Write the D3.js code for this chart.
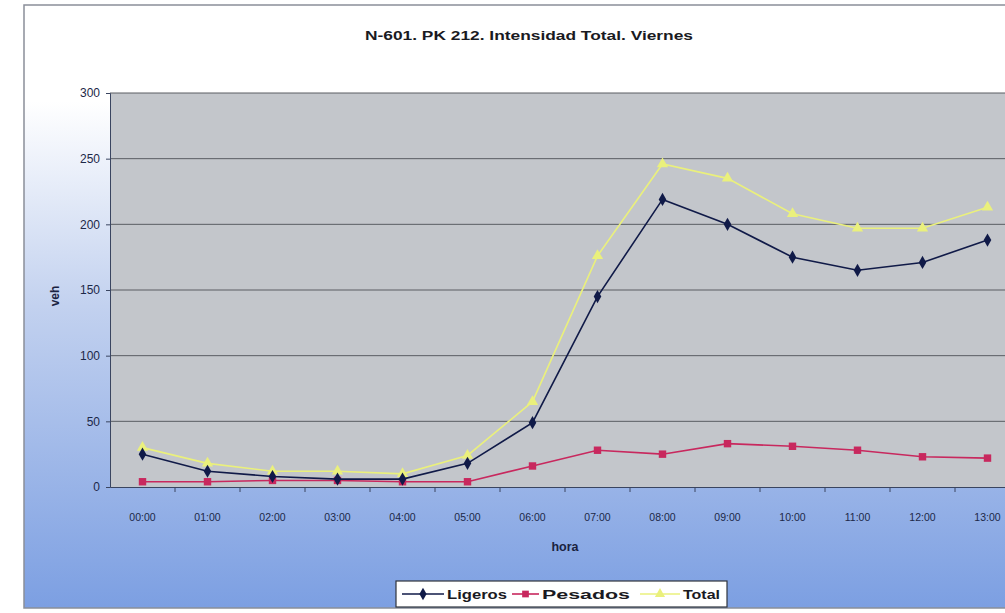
<!DOCTYPE html>
<html><head><meta charset="utf-8">
<script src="https://cdn.jsdelivr.net/npm/d3@7"></script>
<style>html,body{margin:0;padding:0;background:#fff;overflow:hidden}</style>
</head><body>
<svg id="c" width="1005" height="613"></svg>
<script>
const categories = ["00:00","01:00","02:00","03:00","04:00","05:00","06:00","07:00","08:00","09:00","10:00","11:00","12:00","13:00"];
const ligeros = [25, 12, 8, 6, 6, 18, 49, 145, 219, 200, 175, 165, 171, 188];
const pesados = [4, 4, 5, 5, 4, 4, 16, 28, 25, 33, 31, 28, 23, 22];
const total   = [30, 18, 12, 12, 10, 24, 65, 176, 246, 235, 208, 197, 197, 213];
const yTicks = [0, 50, 100, 150, 200, 250, 300];
const seriesNames = ["Ligeros", "Pesados", "Total"];

const FONT = "Liberation Sans, Arial, sans-serif";
const svg = d3.select("#c");
const defs = svg.append("defs");
const g1 = defs.append("linearGradient").attr("id","bg").attr("x1",0).attr("y1",0).attr("x2",0).attr("y2",1);
g1.append("stop").attr("offset","0%").attr("stop-color","#ffffff");
g1.append("stop").attr("offset","16%").attr("stop-color","#ffffff");
g1.append("stop").attr("offset","50%").attr("stop-color","#c2d1ef");
g1.append("stop").attr("offset","100%").attr("stop-color","#7c9fe2");

svg.append("rect").attr("x",24).attr("y",5).attr("width",990).attr("height",603)
  .attr("fill","url(#bg)").attr("stroke","#8a8f99").attr("stroke-width",1.5);

const L = 110, R = 1020, T = 93, B = 487;
svg.append("rect").attr("x",L).attr("y",T).attr("width",R-L).attr("height",B-T).attr("fill","#c3c6cb");

const x = d3.scaleBand().domain(categories).range([L, R]);
const y = d3.scaleLinear().domain([0, 300]).range([B, T]);

// grid
svg.append("g").selectAll("line").data(yTicks.filter(d=>d>0)).join("line")
  .attr("x1",L).attr("x2",R).attr("y1",d=>y(d)).attr("y2",d=>y(d))
  .attr("stroke","#5a5d63").attr("stroke-width",1);

// y axis
const ya = svg.append("g").attr("transform",`translate(${L},0)`)
  .call(d3.axisLeft(y).tickValues(yTicks).tickSize(4).tickPadding(6));
ya.select(".domain").attr("stroke","#3a4560");
ya.selectAll(".tick line").attr("stroke","#3a4560");
ya.selectAll("text").attr("font-family",FONT).attr("font-size",12).attr("fill","#1c2848");

// x axis
const xa = svg.append("g").attr("transform",`translate(0,${B})`)
  .call(d3.axisBottom(x).tickSize(0).tickPadding(27));
xa.select(".domain").attr("stroke","#3a4560");
xa.selectAll("text").attr("font-family",FONT).attr("font-size",10.5).attr("fill","#1c2848");
svg.append("g").selectAll("line").data(categories.slice(1)).join("line")
  .attr("x1",d=>x(d)).attr("x2",d=>x(d)).attr("y1",B).attr("y2",B+5).attr("stroke","#3a4560");

// titles
svg.append("text").attr("x",529).attr("y",40).attr("text-anchor","middle")
  .attr("font-family",FONT).attr("font-weight","bold").attr("font-size",13)
  .attr("textLength",328).attr("lengthAdjust","spacingAndGlyphs")
  .attr("fill","#1a1a22").text("N-601. PK 212. Intensidad Total. Viernes");
svg.append("text").attr("x",565).attr("y",551).attr("text-anchor","middle")
  .attr("font-family",FONT).attr("font-weight","bold").attr("font-size",12.5)
  .attr("fill","#1a2240").text("hora");
svg.append("text").attr("transform","translate(59,296) rotate(-90)").attr("text-anchor","middle")
  .attr("font-family",FONT).attr("font-weight","bold").attr("font-size",12)
  .attr("fill","#1a2240").text("veh");

const cx = d => x(d) + x.bandwidth()/2;
const line = d3.line().x((d,i)=>cx(categories[i])).y(d=>y(d));
const colors = {Ligeros:"#101a48", Pesados:"#c8285e", Total:"#eaf07c"};
const data = {Ligeros: ligeros, Pesados: pesados, Total: total};
const sym = {Ligeros: d3.symbolDiamond, Pesados: d3.symbolSquare, Total: d3.symbolTriangle};
const size = {Ligeros: 50, Pesados: 55, Total: 55};

const clip = defs.append("clipPath").attr("id","pc");
clip.append("rect").attr("x",L).attr("y",T-10).attr("width",R-L).attr("height",B-T+12);
const pg = svg.append("g").attr("clip-path","url(#pc)");

["Total","Pesados","Ligeros"].forEach(s=>{
  pg.append("path").datum(data[s]).attr("d",line).attr("fill","none")
    .attr("stroke",colors[s]).attr("stroke-width",1.6);
  pg.append("g").selectAll("path").data(data[s]).join("path")
    .attr("transform",(d,i)=>`translate(${cx(categories[i])},${y(d)})`)
    .attr("d",d3.symbol().type(sym[s]).size(size[s])).attr("fill",colors[s]);
});

// legend
const lg = svg.append("g");
lg.append("rect").attr("x",396).attr("y",581).attr("width",331).attr("height",26)
  .attr("fill","#ffffff").attr("stroke","#30343c").attr("stroke-width",1.2);
const lx = [402, 512, 640];
const lw = [42, 27, 40];
const tw = [60, 88, 37];
seriesNames.forEach((s,i)=>{
  const x0 = lx[i];
  lg.append("line").attr("x1",x0).attr("x2",x0+lw[i]).attr("y1",594).attr("y2",594)
    .attr("stroke",colors[s]).attr("stroke-width",1.6);
  lg.append("path").attr("transform",`translate(${x0+lw[i]/2},594)`)
    .attr("d",d3.symbol().type(sym[s]).size(45)).attr("fill",colors[s]);
  lg.append("text").attr("x",x0+lw[i]+3).attr("y",599)
    .attr("font-family",FONT).attr("font-weight","bold").attr("font-size",13)
    .attr("textLength",tw[i]).attr("lengthAdjust","spacingAndGlyphs")
    .attr("fill","#1a1a22").text(s);
});
</script>
</body></html>
